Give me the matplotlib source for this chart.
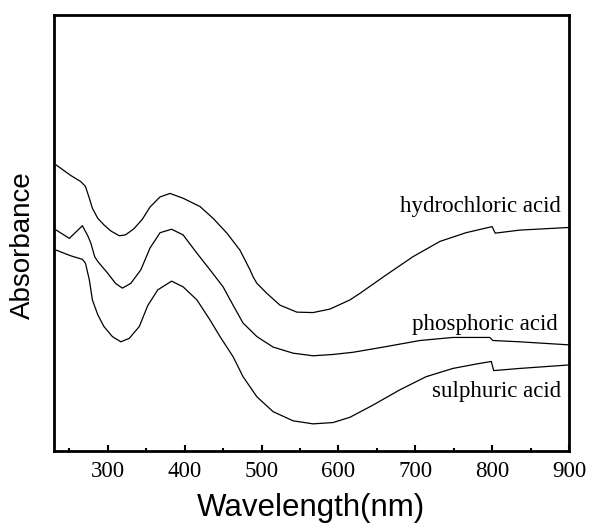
import numpy as np
import matplotlib
matplotlib.use("Agg")
import matplotlib.pyplot as plt
from matplotlib.ticker import MultipleLocator

# ----- data (absorbance in arbitrary units) -----
wl_hcl = [233, 252, 265, 271, 276, 280, 287, 295, 304, 315, 323, 334, 345, 355,
          368, 381, 398, 420, 437, 455, 472, 485, 489, 494, 507, 524, 546, 567,
          589, 615, 628, 662, 697, 732, 766, 800, 804, 836, 900]
abs_hcl = [0.655, 0.631, 0.617, 0.606, 0.579, 0.556, 0.533, 0.518, 0.504, 0.493,
           0.495, 0.509, 0.531, 0.559, 0.582, 0.590, 0.579, 0.560, 0.533, 0.499,
           0.460, 0.415, 0.399, 0.384, 0.361, 0.334, 0.318, 0.317, 0.325, 0.346,
           0.361, 0.403, 0.445, 0.480, 0.500, 0.514, 0.499, 0.506, 0.512]

wl_h3po4 = [233, 250, 267, 274, 278, 283, 287, 300, 310, 319, 330, 343, 355, 368,
            383, 398, 416, 433, 450, 463, 476, 494, 515, 541, 567, 593, 619, 662,
            706, 749, 797, 801, 836, 900]
abs_h3po4 = [0.506, 0.487, 0.516, 0.493, 0.476, 0.445, 0.434, 0.407, 0.384, 0.373,
             0.384, 0.415, 0.465, 0.500, 0.508, 0.495, 0.453, 0.415, 0.376, 0.334,
             0.293, 0.262, 0.238, 0.224, 0.218, 0.221, 0.226, 0.239, 0.253, 0.260,
             0.260, 0.253, 0.250, 0.243]

wl_h2so4 = [233, 252, 267, 271, 276, 280, 287, 295, 306, 317, 328, 341, 352, 365,
            383, 398, 416, 433, 446, 463, 476, 494, 515, 541, 567, 593, 615,
            645, 680, 714, 749, 779, 799, 802, 836, 900]
abs_h2so4 = [0.460, 0.447, 0.439, 0.430, 0.392, 0.346, 0.312, 0.285, 0.262, 0.250,
             0.258, 0.285, 0.333, 0.369, 0.389, 0.376, 0.346, 0.300, 0.262,
             0.216, 0.170, 0.124, 0.090, 0.069, 0.062, 0.065, 0.077, 0.105, 0.140,
             0.170, 0.189, 0.199, 0.205, 0.184, 0.189, 0.197]

labels = ["hydrochloric acid", "phosphoric acid", "sulphuric acid"]
label_pos = [(890, 0.559), (885, 0.289), (890, 0.135)]

x_ticks = [300, 400, 500, 600, 700, 800, 900]

# ----- figure -----
fig = plt.figure(figsize=(5.93, 5.28), dpi=100)
ax = fig.add_axes([0.091, 0.146, 0.8685, 0.8265])

for wl, a in [(wl_hcl, abs_hcl), (wl_h3po4, abs_h3po4), (wl_h2so4, abs_h2so4)]:
    ax.plot(wl, a, color="black", lw=0.9)

for txt, (x, y) in zip(labels, label_pos):
    ax.text(x, y, txt, ha="right", va="center", fontsize=16.5,
            family="Liberation Serif")

ax.set_xlim(230, 900)
ax.set_ylim(0, 1)

ax.set_xticks(x_ticks)
ax.xaxis.set_minor_locator(MultipleLocator(50))
ax.set_yticks([])
ax.tick_params(axis="x", which="major", direction="in", length=4, width=1.5,
               pad=7, labelsize=16.5)
ax.tick_params(axis="x", which="minor", direction="in", length=2.5, width=1.5)
for lab in ax.get_xticklabels():
    lab.set_family("Liberation Serif")

for sp in ax.spines.values():
    sp.set_linewidth(2)

ax.set_xlabel("Wavelength(nm)", fontsize=22.5, family="Liberation Sans", labelpad=8)
ax.set_ylabel("Absorbance", fontsize=20, family="Liberation Sans")
ax.yaxis.set_label_coords(-0.035, 0.472)

fig.savefig("out.png", dpi=100)
